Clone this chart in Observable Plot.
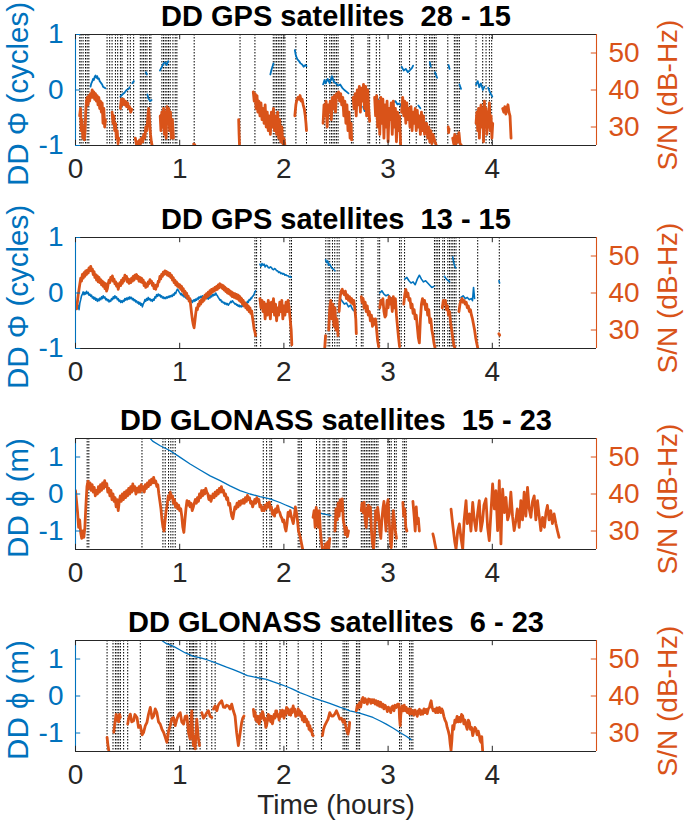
<!DOCTYPE html>
<html><head><meta charset="utf-8">
<script src="https://cdn.jsdelivr.net/npm/d3@7"></script>
<script src="https://cdn.jsdelivr.net/npm/@observablehq/plot@0.6"></script>
<style>
body{margin:0;background:#fff;}
#chart{position:relative;width:685px;height:834px;overflow:hidden;}
#chart svg{position:absolute;left:0;overflow:visible;}
</style></head><body><div id="chart"></div>
<script>
const BLUE = "#0072BD", ORANGE = "#D95319", AX = "#262626";
const hourTicks = [0, 1, 2, 3, 4];
const snrTicks = [30, 40, 50];
const titles = ["DD GPS satellites \u00a028 - 15", "DD GPS satellites \u00a013 - 15", "DD GLONASS satellites \u00a015 - 23", "DD GLONASS satellites \u00a06 - 23"];
const leftLabels = ["DD \u03A6 (cycles)", "DD \u03A6 (cycles)", "DD \u03D5 (m)", "DD \u03D5 (m)"];
const rightLabel = "S/N (dB-Hz)";
const xLabel = "Time (hours)";

// ---------- Panel 1: GPS 28 - 15 ----------
const p1_snr = [
 [[0.040,33],[0.048,35],[0.055,29],[0.062,32],[0.070,27],[0.078,30],[0.085,26.5],[0.092,29],[0.098,34],[0.105,37],[0.112,38],[0.120,36],[0.128,38.5],[0.136,37],[0.144,39],[0.152,38],[0.160,40],[0.168,38],[0.176,39.5],[0.184,37.5],[0.192,39],[0.200,37],[0.208,38.5],[0.216,36],[0.224,38],[0.232,35],[0.240,37],[0.248,34],[0.256,36.5],[0.264,31],[0.272,35],[0.280,30],[0.288,32]],
 [[0.351,34],[0.360,31],[0.368,33],[0.376,29],[0.384,31],[0.392,27],[0.400,29],[0.408,25.5],[0.415,27]],
 [[0.431,35],[0.440,37.5],[0.450,36],[0.460,37.5],[0.470,36],[0.480,37],[0.490,35.5],[0.500,36.5],[0.510,35],[0.520,35.5],[0.530,34],[0.540,34.8]],
 [[0.574,27],[0.585,25.3],[0.595,26],[0.605,25.2],[0.615,26.5],[0.625,25.5],[0.635,27],[0.645,26],[0.655,28],[0.665,27],[0.675,30],[0.685,29],[0.695,33],[0.702,35],[0.710,32],[0.720,28],[0.728,26],[0.734,25.2]],
 [[0.813,33],[0.820,29],[0.828,34],[0.836,30],[0.845,35],[0.853,28],[0.862,34],[0.870,27],[0.878,35.5],[0.886,31],[0.895,35],[0.903,29],[0.912,34],[0.920,27],[0.930,32],[0.940,27]],
 [[1.134,25.4],[1.144,25.2]],
 [[1.566,32],[1.570,28],[1.574,25.2]],
 [[1.706,39.5],[1.715,37],[1.724,39],[1.733,35],[1.742,38.5],[1.750,34],[1.760,37],[1.770,33],[1.780,36.5],[1.790,32],[1.800,35],[1.810,31],[1.820,36],[1.830,30],[1.840,34],[1.850,29],[1.860,33],[1.870,28],[1.880,34],[1.890,30],[1.900,35],[1.910,29],[1.920,33],[1.930,28],[1.940,34],[1.950,27],[1.960,32],[1.970,26],[1.980,30],[1.990,25.5],[2.000,27],[2.009,25.2]],
 [[2.105,33],[2.115,36],[2.125,37.5],[2.135,38],[2.145,37.5],[2.155,38.5],[2.165,37],[2.175,37.5],[2.185,36],[2.195,35],[2.205,33],[2.212,31],[2.217,29]],
 [[2.376,31],[2.385,36],[2.395,33],[2.405,37],[2.415,30],[2.425,36],[2.435,34],[2.445,37],[2.455,32],[2.465,38],[2.475,35],[2.485,38.5],[2.495,34],[2.505,39],[2.515,38],[2.525,39.5],[2.535,37],[2.545,39],[2.555,36],[2.565,38],[2.575,33],[2.585,37],[2.595,31],[2.605,36],[2.615,29],[2.625,34],[2.635,27],[2.645,31],[2.650,26.5]],
 [[2.664,38],[2.674,35],[2.684,39],[2.694,33],[2.704,40],[2.714,36],[2.724,41],[2.734,34],[2.744,40.5],[2.754,37],[2.764,41.5],[2.774,35],[2.784,41],[2.794,33],[2.804,40],[2.814,35],[2.823,31.5]],
 [[2.871,38],[2.880,33],[2.890,38.5],[2.900,30],[2.910,37],[2.920,28],[2.930,38],[2.940,31],[2.950,37.5],[2.960,27],[2.970,36],[2.980,30],[2.990,37],[3.000,26],[3.010,35],[3.020,32],[3.030,36.5],[3.040,28],[3.050,37],[3.060,30],[3.070,35],[3.080,26],[3.090,34],[3.100,29],[3.110,33],[3.120,25.2]],
 [[3.130,34],[3.140,38],[3.150,33],[3.160,37],[3.170,31],[3.180,36.5],[3.190,32],[3.200,35],[3.210,30],[3.220,35.5],[3.230,29],[3.240,34],[3.250,31],[3.260,35],[3.270,29],[3.280,34.5],[3.290,30],[3.300,33],[3.310,28],[3.320,34],[3.330,29],[3.340,33],[3.350,28],[3.360,31],[3.370,31],[3.380,27],[3.390,30],[3.400,26],[3.410,29],[3.420,25.5],[3.430,28],[3.440,27],[3.450,26],[3.460,25.2]],
 [[3.577,30],[3.581,28.5],[3.585,29.5]],
 [[3.620,27],[3.630,25.5],[3.640,28],[3.650,25.2],[3.660,27.5],[3.670,26],[3.680,28.5],[3.690,25.5],[3.700,25.2]],
 [[3.844,31],[3.852,34],[3.860,29],[3.868,35],[3.876,27],[3.884,33],[3.892,36],[3.900,30],[3.908,35],[3.916,26],[3.924,37],[3.932,31],[3.940,35],[3.948,28],[3.956,34],[3.964,30],[3.972,36.5],[3.980,29],[3.988,33],[3.996,27],[4.004,31]],
 [[4.100,35],[4.110,34],[4.120,35.5],[4.130,33.5],[4.140,35],[4.150,36],[4.160,34],[4.170,33],[4.175,30],[4.180,27]]
];
const p1_dd = [
 [[0.144,0.06],[0.152,0.12],[0.160,0.15],[0.168,0.2],[0.176,0.18],[0.184,0.24],[0.192,0.26],[0.200,0.22],[0.208,0.25],[0.216,0.2],[0.224,0.21],[0.232,0.16],[0.240,0.14],[0.248,0.12],[0.256,0.1],[0.264,0.06],[0.272,0.05],[0.287,0.03]],
 [[0.431,-0.12],[0.450,-0.08],[0.470,-0.05],[0.490,0.0],[0.510,0.02],[0.520,0.05]],
 [[0.545,0.12],[0.560,0.16]],
 [[0.675,0.32],[0.685,0.28]],
 [[0.690,-0.08],[0.700,-0.15],[0.715,-0.2],[0.730,-0.18]],
 [[0.810,0.35],[0.830,0.42],[0.845,0.48],[0.860,0.5],[0.875,0.45],[0.890,0.52]],
 [[1.870,0.28],[1.880,0.36],[1.890,0.42],[1.900,0.48]],
 [[2.105,0.72],[2.115,0.62],[2.130,0.55],[2.145,0.52],[2.160,0.48],[2.175,0.46],[2.190,0.42],[2.205,0.45],[2.217,0.43]],
 [[2.376,0.1],[2.390,0.18],[2.400,0.12],[2.420,0.2],[2.440,0.12],[2.460,0.25],[2.480,0.15],[2.500,0.12],[2.520,0.08],[2.540,0.1],[2.560,0.04],[2.580,0.0],[2.600,-0.03],[2.620,-0.06]],
 [[2.760,-0.3],[2.775,-0.38],[2.790,-0.35],[2.800,-0.42]],
 [[2.871,-0.15],[2.890,-0.12],[2.910,-0.2]],
 [[3.050,-0.22],[3.070,-0.2],[3.090,-0.26],[3.110,-0.24],[3.127,-0.3]],
 [[3.130,0.42],[3.150,0.35],[3.170,0.38],[3.190,0.32],[3.210,0.36],[3.230,0.4],[3.240,0.44]],
 [[3.290,-0.28],[3.310,-0.33]],
 [[3.400,0.5],[3.410,0.42]],
 [[3.450,0.32],[3.470,0.22]],
 [[3.580,0.45],[3.590,0.38]],
 [[3.685,0.1],[3.700,0.02]],
 [[3.844,0.1],[3.860,0.16],[3.875,0.05],[3.890,0.12],[3.910,0.0],[3.924,0.06]],
 [[3.960,0.04],[3.980,-0.05],[4.000,-0.12]]
];
const p1_slips = [0.041,0.054,0.073,0.096,0.112,0.128,0.303,0.328,0.351,0.383,0.405,0.431,0.447,0.501,0.526,0.558,0.622,0.638,0.654,0.670,0.686,0.711,0.724,0.829,0.845,0.861,0.877,0.893,0.909,0.935,0.957,0.973,1.139,1.579,1.722,1.898,1.914,1.930,1.946,1.962,1.978,1.994,2.010,2.115,2.217,2.392,2.408,2.440,2.456,2.472,2.488,2.504,2.520,2.648,2.664,2.807,2.823,2.887,2.919,3.110,3.126,3.206,3.270,3.349,3.365,3.397,3.413,3.429,3.445,3.461,3.573,3.636,3.652,3.668,3.684,3.844,3.908,3.940,3.972,3.994];

// ---------- Panel 2: GPS 13 - 15 ----------
const p2_snr = [
 [[0.010,35.7],[0.018,37.5],[0.026,39.5],[0.034,41],[0.042,42.5],[0.050,44],[0.058,43.2],[0.066,45],[0.074,44],[0.082,45.5],[0.090,44.5],[0.098,46],[0.106,45],[0.114,46.2],[0.122,45.4],[0.130,46.8],[0.138,46],[0.146,47.2],[0.154,46],[0.162,46.5],[0.170,45],[0.178,45.8],[0.186,44.2],[0.194,45],[0.202,43.5],[0.210,44.6],[0.218,43],[0.226,44.2],[0.234,42.8],[0.242,43.6],[0.250,42.2],[0.258,43.2],[0.266,41.8],[0.274,42.8],[0.282,41.2],[0.290,42.5],[0.298,40.5],[0.306,41.2],[0.314,42.5],[0.322,43.5],[0.330,42.8],[0.338,44.2],[0.346,43.5],[0.354,44.6],[0.362,43.2],[0.370,43.8],[0.378,42.5],[0.386,43],[0.394,41.8],[0.402,42.5],[0.410,41],[0.418,42],[0.426,42.8],[0.434,42],[0.442,43.5],[0.450,42.6],[0.458,44],[0.466,43.2],[0.474,44.8],[0.482,43.8],[0.490,44.5],[0.498,43],[0.506,43.8],[0.514,42.6],[0.522,43.6],[0.530,42.8],[0.538,44],[0.546,43.2],[0.554,44.5],[0.562,43.5],[0.570,44.8],[0.578,44],[0.586,45],[0.594,43.8],[0.602,44.5],[0.610,43.2],[0.618,44.2],[0.626,43],[0.634,44],[0.642,42.8],[0.650,43.5],[0.658,42],[0.666,42.8],[0.674,41.5],[0.682,42.4],[0.690,41.8],[0.698,43],[0.706,42.5],[0.714,43.6],[0.722,42.8],[0.730,43.2],[0.738,42],[0.746,42.6],[0.754,41.2],[0.762,42],[0.770,41],[0.778,42.2],[0.786,41.8],[0.794,43.2],[0.802,43],[0.810,44.5],[0.818,43.8],[0.826,45],[0.834,44.5],[0.842,45.6],[0.850,45],[0.858,46],[0.866,45.2],[0.874,45.8],[0.882,44.8],[0.890,45.5],[0.898,44.6],[0.906,45.3],[0.914,44.2],[0.922,44.8],[0.930,43.5],[0.938,44.2],[0.946,42.8],[0.954,43.5],[0.962,42.2],[0.970,43],[0.978,41.8],[0.986,42.5],[0.994,41.5],[1.002,42.2],[1.010,41],[1.018,41.8],[1.026,40.5],[1.034,41.2],[1.042,39.8],[1.050,40.5],[1.058,39.2],[1.066,40],[1.074,38.6],[1.082,39.2],[1.090,37.8],[1.098,38.5],[1.106,36.5],[1.114,34.5],[1.122,32.8],[1.130,31.5],[1.138,30.6],[1.146,32.5],[1.154,34.5],[1.162,36],[1.170,35.5],[1.178,37],[1.186,36.5],[1.194,37.8],[1.202,37],[1.210,38.2],[1.218,37.6],[1.226,38.8],[1.234,38],[1.242,39.4],[1.250,38.6],[1.258,39.8],[1.266,39],[1.274,40.2],[1.282,39.4],[1.290,40.6],[1.298,39.8],[1.306,41],[1.314,40.2],[1.322,41.2],[1.330,40.5],[1.338,41.5],[1.346,40.8],[1.354,41.8],[1.362,41],[1.370,42.2],[1.378,41.4],[1.386,42.5],[1.394,41.6],[1.402,42.2],[1.410,41.2],[1.418,42],[1.426,40.8],[1.434,41.6],[1.442,40.4],[1.450,41.2],[1.458,40],[1.466,41],[1.474,39.8],[1.482,40.6],[1.490,39.4],[1.498,40.3],[1.506,39],[1.514,40],[1.522,38.8],[1.530,39.8],[1.538,38.6],[1.546,39.6],[1.554,38.4],[1.562,39.4],[1.570,38],[1.578,39],[1.586,37.6],[1.594,38.5],[1.602,37],[1.610,38],[1.618,36.5],[1.626,37.4],[1.634,36],[1.642,37],[1.650,35.5],[1.658,36.5],[1.666,35],[1.674,36],[1.682,34.5],[1.690,35.2],[1.698,33.5],[1.706,32],[1.714,30.3],[1.722,29.5],[1.728,28.5]],
 [[1.770,38.5],[1.780,36],[1.790,38],[1.800,35],[1.810,37.5],[1.820,33],[1.830,37],[1.840,34],[1.850,38],[1.860,36],[1.870,33],[1.880,37.5],[1.890,35],[1.900,38.5],[1.910,34],[1.920,37],[1.930,32.5],[1.940,36],[1.950,34],[1.960,37.5],[1.970,35],[1.980,38],[1.990,33],[2.000,36.5],[2.010,34],[2.020,37.5],[2.030,35],[2.040,38],[2.050,36],[2.060,33],[2.070,30],[2.076,26]],
 [[2.392,25.2],[2.396,27],[2.400,28.5]],
 [[2.430,30],[2.440,36],[2.450,38],[2.460,33],[2.470,37],[2.480,31],[2.490,36],[2.500,30],[2.510,33],[2.520,28.5]],
 [[2.530,35],[2.540,39],[2.550,40.5],[2.560,41],[2.570,40],[2.580,39.5],[2.590,40.5],[2.600,38.5],[2.610,39.5],[2.620,38],[2.630,39],[2.640,37.5],[2.650,38.5],[2.660,37],[2.670,38],[2.680,36],[2.690,33],[2.695,29]],
 [[2.743,39],[2.750,37.5],[2.760,38.5],[2.770,36],[2.780,37.5],[2.790,35],[2.800,36.5],[2.810,34],[2.820,35],[2.830,32.5],[2.840,34],[2.850,31],[2.860,33],[2.870,31.5],[2.880,33],[2.890,30],[2.900,27],[2.910,25.5]],
 [[2.920,36],[2.930,38],[2.940,37],[2.950,38.5],[2.960,35],[2.970,33.5],[2.980,34],[2.990,38],[3.000,36],[3.010,39],[3.020,37],[3.030,38.5],[3.040,35],[3.050,39],[3.060,36],[3.070,38.5],[3.080,34],[3.090,31],[3.100,28],[3.110,25.5]],
 [[3.150,37],[3.160,39.5],[3.170,41],[3.180,39],[3.190,40],[3.200,38],[3.210,38.5],[3.220,36],[3.230,37],[3.240,34.5],[3.250,35.5],[3.260,33],[3.270,34],[3.280,31],[3.290,28],[3.300,26.5],[3.310,33],[3.320,37],[3.330,38.5],[3.340,37],[3.350,38],[3.360,35.5],[3.370,37],[3.380,34],[3.390,35.5],[3.400,32],[3.410,33],[3.420,30],[3.430,28.5],[3.440,26.5],[3.450,25.2]],
 [[3.520,36],[3.530,38],[3.540,37],[3.550,38],[3.560,35.5],[3.570,36.5],[3.580,34],[3.590,35],[3.600,32],[3.610,30],[3.620,28],[3.630,26],[3.640,25.2]],
 [[3.680,35],[3.690,37],[3.700,38],[3.710,38.5],[3.720,37.5],[3.730,38],[3.740,37],[3.750,37.5],[3.760,36],[3.770,36.5],[3.780,35],[3.790,35.5],[3.800,34],[3.810,33],[3.820,31.5],[3.830,30],[3.840,28],[3.850,26.5],[3.860,25.2]],
 [[4.063,29],[4.071,28.6]]
];
const p2_dd = [
 [[0.010,-0.2],[0.018,-0.28],[0.026,-0.22],[0.034,-0.3],[0.042,-0.18],[0.050,-0.12],[0.058,-0.05],[0.066,-0.02],[0.074,0.02],[0.082,-0.03],[0.090,0.01],[0.098,-0.02],[0.106,0.03],[0.114,-0.01],[0.122,0.01],[0.130,-0.04],[0.138,-0.02],[0.146,-0.06],[0.154,-0.04],[0.162,-0.09],[0.170,-0.07],[0.178,-0.11],[0.186,-0.08],[0.194,-0.13],[0.202,-0.1],[0.210,-0.15],[0.218,-0.11],[0.226,-0.14],[0.234,-0.09],[0.242,-0.12],[0.250,-0.07],[0.258,-0.1],[0.266,-0.05],[0.274,-0.09],[0.282,-0.07],[0.290,-0.12],[0.298,-0.1],[0.306,-0.14],[0.314,-0.12],[0.322,-0.16],[0.330,-0.13],[0.338,-0.15],[0.346,-0.1],[0.354,-0.12],[0.362,-0.07],[0.370,-0.1],[0.378,-0.05],[0.386,-0.09],[0.394,-0.07],[0.402,-0.12],[0.410,-0.1],[0.418,-0.15],[0.426,-0.13],[0.434,-0.17],[0.442,-0.14],[0.450,-0.17],[0.458,-0.13],[0.466,-0.15],[0.474,-0.1],[0.482,-0.13],[0.490,-0.09],[0.498,-0.12],[0.506,-0.08],[0.514,-0.11],[0.522,-0.07],[0.530,-0.1],[0.538,-0.08],[0.546,-0.12],[0.554,-0.1],[0.562,-0.14],[0.570,-0.12],[0.578,-0.16],[0.586,-0.14],[0.594,-0.18],[0.602,-0.16],[0.610,-0.2],[0.618,-0.17],[0.626,-0.22],[0.634,-0.19],[0.642,-0.25],[0.650,-0.2],[0.658,-0.17],[0.666,-0.12],[0.674,-0.15],[0.682,-0.1],[0.690,-0.13],[0.698,-0.08],[0.706,-0.12],[0.714,-0.1],[0.722,-0.14],[0.730,-0.12],[0.738,-0.15],[0.746,-0.11],[0.754,-0.13],[0.762,-0.07],[0.770,-0.09],[0.778,-0.03],[0.786,-0.06],[0.794,-0.02],[0.802,-0.05],[0.810,-0.03],[0.818,-0.07],[0.826,-0.05],[0.834,-0.09],[0.842,-0.07],[0.850,-0.1],[0.858,-0.08],[0.866,-0.1],[0.874,-0.07],[0.882,-0.09],[0.890,-0.06],[0.898,-0.08],[0.906,-0.05],[0.914,-0.07],[0.922,-0.04],[0.930,-0.06],[0.938,-0.02],[0.946,-0.04],[0.954,0.01],[0.962,-0.01],[0.970,0.04],[0.978,0.07],[0.986,0.05],[0.994,0.02],[1.002,0.0],[1.010,-0.03],[1.018,-0.01],[1.026,-0.05],[1.034,-0.03],[1.042,-0.07],[1.050,-0.05],[1.058,-0.09],[1.066,-0.07],[1.074,-0.11],[1.082,-0.09],[1.090,-0.13],[1.098,-0.12],[1.106,-0.16],[1.114,-0.13],[1.122,-0.17],[1.130,-0.14],[1.138,-0.12],[1.146,-0.15],[1.154,-0.11],[1.162,-0.13],[1.170,-0.09],[1.178,-0.11],[1.186,-0.07],[1.194,-0.09],[1.202,-0.06],[1.210,-0.08],[1.218,-0.05],[1.226,-0.08],[1.234,-0.06],[1.242,-0.09],[1.250,-0.07],[1.258,-0.1],[1.266,-0.08],[1.274,-0.11],[1.282,-0.07],[1.290,-0.09],[1.298,-0.05],[1.306,-0.07],[1.314,-0.03],[1.322,-0.05],[1.330,-0.02],[1.338,-0.04],[1.346,0.0],[1.354,-0.03],[1.362,-0.05],[1.370,-0.08],[1.378,-0.1],[1.386,-0.13],[1.394,-0.12],[1.402,-0.16],[1.410,-0.15],[1.418,-0.18],[1.426,-0.17],[1.434,-0.2],[1.442,-0.18],[1.450,-0.21],[1.458,-0.19],[1.466,-0.22],[1.474,-0.2],[1.482,-0.18],[1.490,-0.15],[1.498,-0.17],[1.506,-0.14],[1.514,-0.16],[1.522,-0.18],[1.530,-0.2],[1.538,-0.19],[1.546,-0.22],[1.554,-0.21],[1.562,-0.24],[1.570,-0.22],[1.578,-0.25],[1.586,-0.23],[1.594,-0.25],[1.602,-0.22],[1.610,-0.24],[1.618,-0.2],[1.626,-0.22],[1.634,-0.18],[1.642,-0.2],[1.650,-0.15],[1.658,-0.17],[1.666,-0.12],[1.674,-0.13],[1.682,-0.09],[1.690,-0.1],[1.698,-0.06],[1.706,-0.05],[1.714,-0.02],[1.722,0.02],[1.728,0.04]],
 [[1.770,0.52],[1.780,0.48],[1.790,0.53],[1.800,0.5],[1.810,0.52],[1.820,0.47],[1.830,0.5],[1.840,0.49],[1.850,0.46],[1.860,0.45],[1.870,0.47],[1.880,0.46],[1.890,0.43],[1.900,0.42],[1.910,0.44],[1.920,0.43],[1.930,0.4],[1.940,0.4],[1.950,0.37],[1.960,0.38],[1.970,0.35],[1.980,0.36],[1.990,0.34],[2.000,0.35],[2.010,0.32],[2.020,0.33],[2.030,0.31],[2.040,0.31],[2.050,0.29],[2.060,0.3],[2.070,0.28]],
 [[2.400,0.6],[2.410,0.55],[2.420,0.58],[2.430,0.5],[2.440,0.52],[2.460,0.45],[2.480,0.42],[2.490,0.4]],
 [[2.540,-0.1],[2.560,-0.15],[2.580,-0.2],[2.600,-0.18],[2.620,-0.25],[2.640,-0.22],[2.660,-0.3],[2.680,-0.33]],
 [[2.920,0.0],[2.940,0.04],[2.960,-0.02],[2.980,-0.05],[3.000,-0.03],[3.020,-0.08],[3.040,-0.1],[3.060,-0.12],[3.080,-0.15]],
 [[3.160,0.25],[3.180,0.28],[3.200,0.22],[3.220,0.18],[3.240,0.2],[3.260,0.15],[3.280,0.25],[3.300,0.32],[3.320,0.25],[3.340,0.2],[3.360,0.22],[3.380,0.18],[3.400,0.14],[3.420,0.1],[3.440,0.12]],
 [[3.540,0.3],[3.560,0.25],[3.580,0.22],[3.590,0.2]],
 [[3.620,0.65],[3.630,0.55],[3.640,0.48],[3.650,0.45]],
 [[3.700,-0.08],[3.720,-0.05],[3.740,-0.1],[3.760,-0.08],[3.780,-0.12],[3.800,-0.1],[3.810,-0.14],[3.820,0.1],[3.830,-0.1]],
 [[4.064,0.22],[4.070,0.18]]
];
const p2_slips = [1.722,1.738,1.777,2.057,2.073,2.402,2.424,2.440,2.466,2.488,2.511,2.530,2.695,2.743,2.759,2.903,2.919,3.110,3.126,3.158,3.445,3.461,3.477,3.493,3.525,3.541,3.573,3.589,3.605,3.621,3.636,3.652,3.684,3.860,4.067];

// ---------- Panel 3: GLONASS 15 - 23 ----------
const p3_snr = [
 [[0.00,40.9],[0.01,38],[0.02,35],[0.03,31],[0.04,33],[0.05,29.5],[0.06,28],[0.07,30],[0.08,28.3],[0.09,31],[0.10,37],[0.11,42],[0.12,43.5],[0.13,41.5],[0.14,43],[0.15,41],[0.16,42.5],[0.17,40.5],[0.18,41.8],[0.19,39.5],[0.20,41],[0.21,40],[0.22,42],[0.23,40.5],[0.24,42.5],[0.25,41],[0.26,43],[0.27,41.5],[0.28,43.6],[0.29,42],[0.30,42.8],[0.31,40.5],[0.32,41.5],[0.33,39.5],[0.34,41],[0.35,38.5],[0.36,40],[0.37,38],[0.38,39],[0.39,36.5],[0.40,38.5],[0.41,35.5],[0.42,38],[0.43,39.5],[0.44,38],[0.45,40],[0.46,38.5],[0.47,40.5],[0.48,39],[0.49,40.9],[0.50,39.5],[0.51,41.5],[0.52,40],[0.53,42],[0.54,40.5],[0.55,42.7],[0.56,41],[0.57,42],[0.58,40],[0.59,41.5],[0.60,40.5],[0.61,42],[0.62,40.5],[0.63,42.5],[0.64,41],[0.65,42],[0.66,40.5],[0.67,42.5],[0.68,41.5],[0.69,43],[0.70,42],[0.71,43.6],[0.72,42.5],[0.73,44],[0.74,43],[0.75,44.5],[0.76,43],[0.77,43.5],[0.78,42],[0.79,42.5],[0.80,40],[0.81,38],[0.82,36],[0.83,33],[0.84,31],[0.85,30],[0.86,33],[0.87,35.5],[0.88,37],[0.89,39.5],[0.90,38.5],[0.91,40.5],[0.92,39],[0.93,39.5],[0.94,37.5],[0.95,38.5],[0.96,36.5],[0.97,37.5],[0.98,36],[0.99,37],[1.00,35.5],[1.01,36],[1.02,34],[1.03,31],[1.04,29.6],[1.05,33],[1.06,36],[1.07,38.2],[1.08,37],[1.09,38],[1.10,36.5],[1.11,37.5],[1.12,35.5],[1.13,36.4],[1.14,37.5],[1.15,38.5],[1.16,37.5],[1.17,39],[1.18,38],[1.19,40],[1.20,39],[1.21,40.9],[1.22,39.5],[1.23,41],[1.24,40],[1.25,41.5],[1.26,40.5],[1.27,40],[1.28,38.5],[1.29,39.5],[1.30,38],[1.31,39],[1.32,40],[1.33,39],[1.34,40.5],[1.35,39.5],[1.36,41],[1.37,40],[1.38,41.5],[1.39,40.5],[1.40,42],[1.41,40.5],[1.42,41],[1.43,39.5],[1.44,40],[1.45,38.5],[1.46,39],[1.47,37],[1.48,37.5],[1.49,35.5],[1.50,34],[1.51,33.3],[1.52,35],[1.53,36.5],[1.54,36],[1.55,37.5],[1.56,36.5],[1.57,38],[1.58,37],[1.59,38.2],[1.60,37.5],[1.61,38.5],[1.62,37.5],[1.63,39],[1.64,38],[1.65,39.6],[1.66,38.5],[1.67,39],[1.68,37.5],[1.69,38],[1.70,36.5],[1.71,37.5],[1.72,38.5],[1.73,37.5],[1.74,39],[1.75,38],[1.76,38.5],[1.77,36.5],[1.78,37],[1.79,35.5],[1.80,36.4],[1.81,35.5],[1.82,37],[1.83,36],[1.84,37.5],[1.85,36.5],[1.86,37.8],[1.87,36],[1.88,36.5],[1.89,34.5],[1.90,35.5],[1.91,34],[1.92,36],[1.93,35],[1.94,36.8],[1.95,35.5],[1.96,35],[1.97,34],[1.98,33.5],[1.99,32.5],[2.00,33],[2.01,31],[2.02,30],[2.03,32],[2.04,35],[2.05,34],[2.06,35.5],[2.07,34],[2.08,33],[2.09,32],[2.10,34],[2.11,36.5],[2.12,35],[2.13,33],[2.14,30],[2.15,29],[2.16,28],[2.17,26.5],[2.18,25.1]],
 [[2.28,33.7],[2.29,35.5],[2.30,31],[2.31,36.4],[2.32,34],[2.33,31],[2.34,35.5],[2.35,30],[2.36,27],[2.37,25.1]],
 [[2.39,25.1],[2.40,26.5],[2.41,25.3],[2.42,27],[2.43,25.2],[2.44,28]],
 [[2.49,30],[2.50,36],[2.51,33],[2.52,37.5],[2.53,34],[2.54,38.5],[2.55,35.5],[2.56,38.7],[2.57,33],[2.58,31.5],[2.59,29],[2.60,31],[2.61,28.5],[2.62,30]],
 [[2.743,35.5],[2.75,37.5],[2.76,35],[2.77,37.8],[2.78,33],[2.79,31],[2.80,36],[2.81,37],[2.82,34],[2.83,36.5],[2.84,30],[2.85,27],[2.86,25.1],[2.87,29],[2.88,35.5],[2.89,33],[2.90,36.4],[2.91,34],[2.92,30],[2.93,28],[2.94,33],[2.95,36],[2.96,38],[2.97,34],[2.98,30],[2.99,37],[3.00,38.5],[3.01,33],[3.02,28],[3.03,25.5],[3.04,30],[3.05,35.5],[3.06,33],[3.07,30],[3.08,28]],
 [[3.142,37.7],[3.15,34],[3.16,36],[3.17,31],[3.18,30]],
 [[3.238,38],[3.25,34],[3.26,30],[3.27,36.5],[3.28,32],[3.29,33.5],[3.30,30]],
 [[3.43,29.2],[3.44,28],[3.45,26.5],[3.46,25.1]],
 [[3.604,35.9],[3.615,33],[3.627,30.1],[3.640,27],[3.652,25.1],[3.668,30],[3.684,31.9],[3.700,28],[3.716,25.1],[3.730,33],[3.748,38.2],[3.760,32],[3.780,34.6],[3.795,30],[3.812,37.7],[3.827,33],[3.843,30.1],[3.860,35],[3.875,38.2],[3.890,30],[3.907,32.8],[3.920,37],[3.939,38.7],[3.955,31],[3.971,27.4],[3.987,35],[4.003,42.7],[4.020,36],[4.035,40.9],[4.051,30.1],[4.067,43.6],[4.075,35],[4.083,26.5],[4.090,34],[4.099,41.3],[4.115,35],[4.131,39.1],[4.147,33],[4.163,34.6],[4.178,40.5],[4.194,34],[4.210,30.1],[4.226,32.8],[4.240,36],[4.258,31],[4.274,38.2],[4.290,33],[4.306,40.5],[4.322,34],[4.338,41.8],[4.354,36],[4.370,33.7],[4.386,38],[4.402,39.5],[4.418,33],[4.434,38.2],[4.450,34],[4.466,30.1],[4.482,33.7],[4.500,31],[4.515,35],[4.529,36.9],[4.545,33],[4.561,35.5],[4.577,32],[4.593,34.6],[4.610,32],[4.625,30.1],[4.641,28.3]]
];
const p3_dd = [
 [[0.718,1.5],[0.740,1.43],[0.813,1.305],[0.909,1.17],[1.005,0.99],[1.100,0.81],[1.196,0.65],[1.292,0.49],[1.388,0.36],[1.483,0.22],[1.579,0.09],[1.675,0.0],[1.770,-0.07],[1.866,-0.13],[1.962,-0.23],[2.010,-0.29],[2.060,-0.35],[2.100,-0.4]],
 [[2.300,-0.48],[2.350,-0.52],[2.400,-0.55],[2.450,-0.58]]
];
const p3_slips = [0.112,0.128,0.638,0.839,0.861,0.893,0.915,0.935,0.957,1.802,1.834,1.866,1.882,2.137,2.153,2.169,2.313,2.344,2.376,2.392,2.424,2.440,2.472,2.488,2.504,2.520,2.568,2.584,2.600,2.743,2.759,2.775,2.791,2.807,2.823,2.839,2.855,2.871,2.887,2.903,2.998,3.014,3.030,3.062,3.078,3.142,3.158,3.174];

// ---------- Panel 4: GLONASS 6 - 23 ----------
const p4_snr = [
 [[0.303,28.8],[0.310,27],[0.319,25.3]],
 [[0.367,30.2],[0.375,32],[0.383,33.75],[0.390,35],[0.398,33.5],[0.405,34.6],[0.415,33],[0.423,35],[0.431,34.2]],
 [[0.501,32.4],[0.510,34],[0.526,35.1],[0.540,33],[0.558,33.3],[0.570,35],[0.590,34.2],[0.605,31.5],[0.622,32],[0.640,29.5],[0.654,30.2],[0.670,32],[0.686,32.9],[0.700,35],[0.718,36.9],[0.735,34],[0.750,34.6],[0.765,36.5],[0.781,35.5],[0.797,33],[0.813,32.4],[0.830,31],[0.845,30.2],[0.860,29],[0.877,27.5],[0.893,30.5],[0.909,32],[0.925,34],[0.941,34.2],[0.957,32],[0.973,33.75],[0.990,35],[1.005,35.5],[1.020,33],[1.037,32.4],[1.053,34.5],[1.069,34.6],[1.085,30],[1.100,28.4],[1.108,33],[1.116,36],[1.124,30],[1.132,26.6],[1.140,29],[1.148,25.7],[1.156,30],[1.164,33.75],[1.177,29],[1.190,26.6]],
 [[1.212,35.5],[1.228,34],[1.244,34.6],[1.260,35.5],[1.276,36],[1.292,34.5],[1.308,34.2]],
 [[1.324,36.5],[1.340,37.3],[1.356,36],[1.370,37.5],[1.387,38.2],[1.403,38.7],[1.420,37],[1.435,36.9],[1.450,37.5],[1.467,37.3],[1.483,36.5],[1.499,37.8],[1.515,36],[1.531,34.6],[1.547,30],[1.563,26.6],[1.580,30],[1.595,32.9],[1.605,34],[1.617,34.6]],
 [[1.707,36.4],[1.715,34.5],[1.722,35.8],[1.730,33.5],[1.738,34.6],[1.746,33],[1.754,34.5],[1.762,32.5],[1.770,33.3],[1.778,35],[1.786,34],[1.794,35.8],[1.802,35.1],[1.810,33.5],[1.818,34],[1.826,31.5],[1.834,32],[1.842,33.5],[1.850,35],[1.858,33.5],[1.866,34.6],[1.874,33],[1.882,34.5],[1.890,32.5],[1.898,33.75],[1.906,35],[1.914,34],[1.922,36],[1.930,36],[1.938,34.5],[1.946,35],[1.954,33.5],[1.962,34.6],[1.970,36],[1.978,34.5],[1.986,36.2],[1.994,35.5],[2.002,34],[2.010,36],[2.018,35],[2.025,36.9],[2.033,35.5],[2.041,36.5],[2.049,35],[2.057,36],[2.065,34.8],[2.073,36.5],[2.081,35.5],[2.089,37.3],[2.097,36],[2.105,36.5],[2.113,34.5],[2.121,35.5],[2.129,34.8],[2.137,36.5],[2.145,35],[2.153,36],[2.161,34.5],[2.169,35.5],[2.177,33.5],[2.185,34.6],[2.193,33],[2.201,34.5],[2.209,33],[2.217,33.75],[2.225,32],[2.233,33],[2.241,31],[2.249,32],[2.257,30.5],[2.265,31],[2.273,29.5],[2.281,29.3]],
 [[2.370,29.3],[2.380,31],[2.392,32],[2.410,33],[2.424,33.75],[2.440,35.5],[2.456,34.6],[2.472,34.6],[2.488,35.1],[2.504,36],[2.520,35],[2.536,33.75],[2.552,34],[2.568,32.9],[2.580,33.5],[2.593,32],[2.605,30.5],[2.615,29.7],[2.625,31],[2.631,32.9]],
 [[2.695,36],[2.705,37.5],[2.715,36.8],[2.727,38.2],[2.737,37],[2.748,39],[2.759,39.6],[2.770,38.2],[2.780,39.3],[2.791,38.7],[2.800,37.8],[2.812,39.2],[2.823,39.1],[2.835,38],[2.845,39],[2.855,38.2],[2.866,39],[2.876,37.8],[2.887,38.7],[2.897,37.5],[2.908,38.5],[2.918,37.2],[2.929,38.3],[2.940,37],[2.950,37.8],[2.960,36.5],[2.971,37.5],[2.982,36.9],[2.993,35.8],[3.003,37],[3.014,36.4],[3.025,35.5],[3.035,37],[3.046,37.3],[3.056,36],[3.067,37.5],[3.078,36.9],[3.090,37.8],[3.104,37.8],[3.110,34],[3.116,32],[3.122,35],[3.135,37.3],[3.145,36],[3.155,37.5],[3.165,36],[3.174,36.9],[3.185,35.5],[3.195,36.5],[3.206,35.1],[3.216,36.5],[3.227,35.2],[3.238,36],[3.248,34.8],[3.259,36.2],[3.270,35.5],[3.280,34.5],[3.290,36],[3.301,36.4],[3.312,35],[3.322,36],[3.333,35.1],[3.344,36.5],[3.354,35.5],[3.365,36.4],[3.375,35.2],[3.386,36.5],[3.397,36.9],[3.405,38],[3.413,38.7],[3.422,37],[3.433,36],[3.445,36.4],[3.456,35.5],[3.467,36.8],[3.478,35.5],[3.493,36.9],[3.505,35.5],[3.515,36.5],[3.524,36],[3.535,34.5],[3.546,33.5],[3.557,32.9],[3.567,31.5],[3.578,30.5],[3.588,29.3],[3.596,27],[3.604,25.3],[3.612,28],[3.620,32],[3.630,31],[3.641,33.5],[3.652,32.9],[3.662,34.5],[3.673,33],[3.684,34.2],[3.695,33],[3.705,35],[3.716,34.6],[3.727,32.5],[3.737,33.5],[3.748,32],[3.759,31],[3.770,33.5],[3.780,32.9],[3.790,31],[3.801,31.5],[3.812,29.3],[3.822,30.5],[3.833,31.5],[3.843,31.1],[3.854,29.5],[3.865,30.5],[3.875,29.3],[3.883,28],[3.891,27.5],[3.899,29],[3.907,25.3]]
];
const p4_dd = [
 [[0.829,1.5],[0.870,1.42],[0.941,1.34],[1.000,1.25],[1.050,1.17],[1.132,1.07],[1.200,1.03],[1.260,0.98],[1.320,0.92],[1.388,0.85],[1.450,0.78],[1.515,0.715],[1.580,0.64],[1.627,0.58],[1.650,0.55],[1.738,0.5],[1.834,0.45],[1.900,0.38],[1.962,0.32],[2.030,0.25],[2.089,0.18],[2.153,0.09],[2.220,0.02],[2.281,-0.05],[2.376,-0.14],[2.440,-0.2],[2.536,-0.3],[2.600,-0.36],[2.632,-0.4],[2.711,-0.45],[2.780,-0.51],[2.855,-0.58],[2.920,-0.67],[2.982,-0.76],[3.050,-0.87],[3.110,-0.98],[3.170,-1.08],[3.222,-1.18]]
];
const p4_slips = [0.303,0.360,0.383,0.399,0.415,0.431,0.462,0.501,0.622,0.877,0.893,0.909,0.925,0.941,1.069,1.094,1.107,1.120,1.132,1.148,1.164,1.196,1.260,1.308,1.340,1.617,1.732,1.770,1.786,1.834,1.962,2.026,2.137,2.281,2.360,2.568,2.584,2.600,2.616,2.696,2.711,2.727,3.110,3.126,3.206,3.222,3.238];

const panels = [
  {title: titles[0], left: leftLabels[0], dom: [-1, 1], snr: p1_snr, dd: p1_dd, slips: p1_slips, top: 0, ddW: 1.8},
  {title: titles[1], left: leftLabels[1], dom: [-1, 1], snr: p2_snr, dd: p2_dd, slips: p2_slips, top: 203, ddW: 1.6},
  {title: titles[2], left: leftLabels[2], dom: [-1.5, 1.5], snr: p3_snr, dd: p3_dd, slips: p3_slips, top: 404, ddW: 1.3},
  {title: titles[3], left: leftLabels[3], dom: [-1.5, 1.5], snr: p4_snr, dd: p4_dd, slips: p4_slips, top: 606, ddW: 1.3, last: true}
];

const FONT = "'Liberation Sans', Arial, Helvetica, sans-serif";
const FS = 28;
const chart = document.getElementById("chart");

for (const p of panels) {
  const [lo, hi] = p.dom;
  const toLeft = db => lo + (db - 25) / 30 * (hi - lo);
  const fromLeft = v => 25 + (v - lo) / (hi - lo) * 30;
  const snrData = p.snr.flatMap((seg, i) => seg.map(([t, v]) => ({t, v: toLeft(v), s: i})));
  const ddData = p.dd.flatMap((seg, i) => seg.map(([t, v]) => ({t, v, s: i})));
  const height = p.last ? 228 : 202;
  const tx = 0.05;                 // MATLAB tick length: 1% of the 5 h axis
  const ty = (hi - lo) * 0.047;    // same length in y units
  const leftTicks = [-1, 0, 1];
  const rightTicks = snrTicks.map(toLeft);
  const marks = [
    Plot.ruleX(p.slips, {x: d => d, stroke: "#000", strokeWidth: 1, strokeDasharray: "1.5,1.5"}),
    Plot.line(ddData, {x: "t", y: "v", z: "s", stroke: BLUE, strokeWidth: p.ddW, clip: true}),
    Plot.line(snrData, {x: "t", y: "v", z: "s", stroke: ORANGE, strokeWidth: 2.8, clip: true, strokeLinejoin: "round"}),
    Plot.ruleY([lo, hi], {stroke: AX, strokeWidth: 1.1}),
    Plot.ruleX([0], {stroke: BLUE, strokeWidth: 1.1}),
    Plot.ruleX([5], {stroke: ORANGE, strokeWidth: 1.1}),
    Plot.ruleY(leftTicks, {y: d => d, x1: 0, x2: tx, stroke: BLUE}),
    Plot.ruleY(rightTicks, {y: d => d, x1: 5 - tx, x2: 5, stroke: ORANGE}),
    Plot.ruleX(hourTicks, {x: d => d, y1: lo, y2: lo + ty, stroke: AX}),
    Plot.ruleX(hourTicks, {x: d => d, y1: hi - ty, y2: hi, stroke: AX}),
    Plot.axisY(leftTicks, {anchor: "left", tickSize: 0, tickPadding: 12, color: BLUE, fontSize: FS, label: null, tickFormat: d => String(d)}),
    Plot.axisY(rightTicks, {anchor: "right", tickSize: 0, tickPadding: 12, color: ORANGE, fontSize: FS, label: null, tickFormat: d => String(Math.round(fromLeft(d)))}),
    Plot.axisX(hourTicks, {anchor: "bottom", tickSize: 0, tickPadding: 13, color: AX, fontSize: FS, label: null, tickFormat: d => String(d)}),
    Plot.text([p.title], {frameAnchor: "top", lineAnchor: "middle", dy: -18, fontWeight: "bold", fontSize: 29, fill: "#000"}),
    Plot.text([p.left], {frameAnchor: "left", textAnchor: "middle", lineAnchor: "middle", dx: -57, dy: 4, rotate: -90, fontSize: 29.5, fill: BLUE}),
    Plot.text([rightLabel], {frameAnchor: "right", textAnchor: "middle", lineAnchor: "middle", dx: 72, dy: 5, rotate: -90, fontSize: FS, fill: ORANGE})
  ];
  if (p.last) marks.push(Plot.text([xLabel], {frameAnchor: "bottom", lineAnchor: "middle", dy: 54, fontSize: FS, fill: AX}));
  const svg = Plot.plot({
    width: 685, height,
    marginTop: 34, marginBottom: height - 34 - 111, marginLeft: 75, marginRight: 89,
    x: {domain: [0, 5]},
    y: {domain: [lo, hi]},
    style: {fontFamily: FONT, fontSize: FS + "px", background: "transparent", overflow: "visible"},
    marks
  });
  svg.style.top = p.top + "px";
  chart.appendChild(svg);
}
</script></body></html>
